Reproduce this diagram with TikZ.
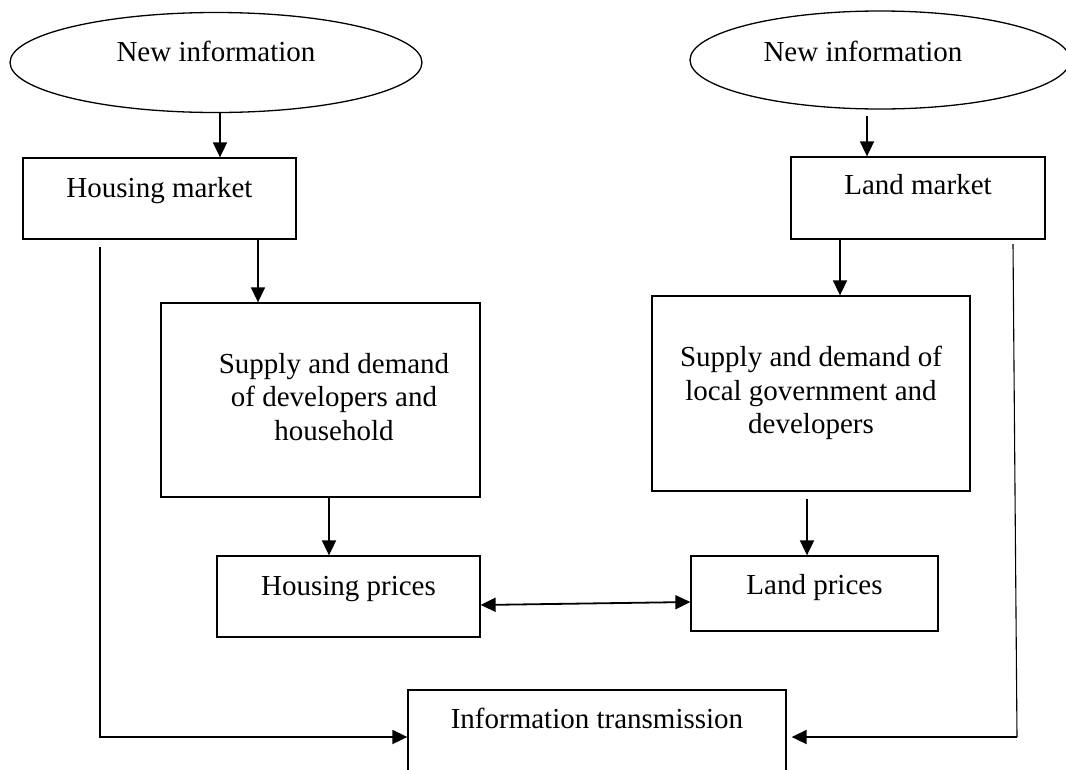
\documentclass[tikz,border=0pt]{standalone}
\usepackage{fontspec}
\setmainfont{Liberation Serif}
\usetikzlibrary{arrows.meta,shapes.geometric,calc}
\begin{document}
\begin{tikzpicture}[x=1pt,y=-1pt,
  txt/.style={font=\fontsize{29}{33.5}\selectfont},
  box/.style={draw, line width=1.3pt, rectangle, inner sep=0pt, txt},
  oval/.style={draw, line width=1.3pt, ellipse, inner sep=0pt, txt},
  arr/.style={line width=1.8pt, -{Triangle[length=15pt,width=14pt]}},
  biarr/.style={line width=1.8pt, {Triangle[length=15pt,width=14pt]}-{Triangle[length=15pt,width=14pt]}},
  thinlink/.style={line width=1.1pt}
]
\useasboundingbox (0,0) rectangle (1066,769);
\clip (0,0) rectangle (1066,769);

% ellipses
\node[oval, minimum width=412pt, minimum height=100pt, text height=20pt, text depth=23pt] (e1) at (216,62.5) {New information};
\node[oval, minimum width=380pt, minimum height=98pt, text height=21pt, text depth=19pt] (e2) at (880,60) {New information\hspace*{34pt}};

% market boxes
\node[box, minimum width=273pt, text height=39pt, text depth=42pt] (hm) at (159.5,198.5) {Housing market};
\node[box, minimum width=254pt, text height=37pt, text depth=45pt] (lm) at (918,198) {Land market};

% supply and demand boxes
\node[box, minimum width=319pt, minimum height=194pt] (sl) at (320.5,400) {\hspace*{27pt}\begin{tabular}{@{}c@{}}Supply and demand\\of developers and\\household\end{tabular}};
\node[box, minimum width=318pt, minimum height=195pt] (sr) at (811,393.5) {\begin{tabular}{@{}c@{}}Supply and demand of\\local government and\\developers\end{tabular}};

% price boxes
\node[box, minimum width=263pt, text height=39pt, text depth=42pt] (hp) at (348.5,596.5) {Housing prices};
\node[box, minimum width=247pt, text height=38pt, text depth=37pt] (lp) at (814.5,593.5) {Land prices};

% information transmission
\node[box, minimum width=378pt, text height=38pt, text depth=56pt] (it) at (597,737) {Information transmission};

% connectors
\draw[arr] ([xshift=4pt]e1.south) -- ([xshift=4pt]e1.south |- hm.north);
\draw[arr] ([xshift=-13pt,yshift=-6pt]e2.south) -- ([xshift=-13pt]e2.south |- lm.north);
\draw[arr] ([xshift=98.5pt]hm.south) -- ([xshift=98.5pt]hm.south |- sl.north);
\draw[arr] ([xshift=-78pt]lm.south) -- ([xshift=-78pt]lm.south |- sr.north);
\draw[arr] ([xshift=8.5pt]sl.south) -- ([xshift=8.5pt]sl.south |- hp.north);
\draw[arr] ([xshift=-4pt,yshift=-7pt]sr.south) -- ([xshift=-4pt]sr.south |- lp.north);
\draw[biarr] ([yshift=-8.5pt]hp.east) -- ([yshift=-8.5pt]lp.west);

\coordinate (l1) at (100,247);
\draw[arr] (l1) |- (it.west);
\coordinate (r1) at (1013,244);
\coordinate (r2) at (1017,737);
\draw[thinlink] (r1) -- (r2);
\draw[arr] (r2) -- ([xshift=5pt]it.east);
\end{tikzpicture}
\end{document}
